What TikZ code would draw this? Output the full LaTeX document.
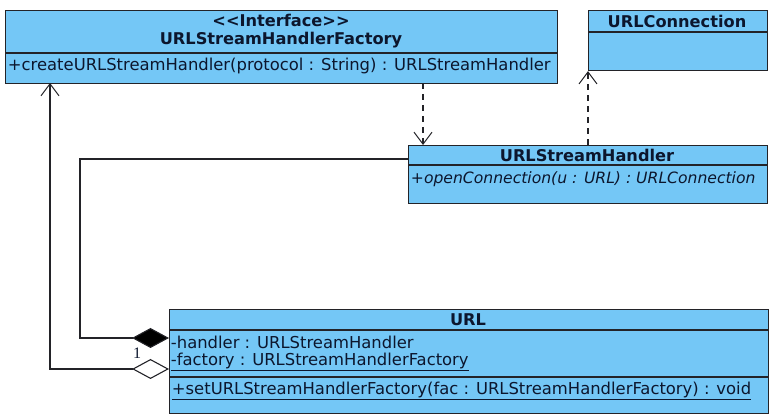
\documentclass[tikz,border=0pt]{standalone}
\usepackage{fontspec}
\setmainfont{DejaVu Sans}
\newfontfamily\multfont{Liberation Serif}
\usepackage{tikz}
\usetikzlibrary{arrows.meta}

\definecolor{umlfill}{RGB}{116,199,246}
\definecolor{umlline}{RGB}{35,35,40}
\definecolor{umltext}{RGB}{12,22,45}

\tikzset{
  umlbox/.style={draw=umlline, fill=umlfill, line width=1.1pt, inner sep=0pt, anchor=north west},
  boxtitle/.style={font=\bfseries\fontsize{16.2}{18}\selectfont, text=umltext, inner sep=0.75pt},
  member/.style={font=\fontsize{16.4}{18}\selectfont, text=umltext, inner sep=0.75pt, anchor=west},
  link/.style={draw=umlline, line width=1.1pt},
  dep/.style={link, dashed, dash pattern=on 6pt off 5pt, -{Straight Barb[length=12pt,width=18pt,line width=1pt]}},
}

\begin{document}
\begin{tikzpicture}[x=1pt,y=1pt,yscale=-1,xscale=1]
\useasboundingbox (0,0) rectangle (774,419);

% Boxes
\node [umlbox, minimum width=552pt, minimum height=73pt] (fac) at (5,10) {};
\node [umlbox, minimum width=179pt, minimum height=60pt] (conn) at (588,10) {};
\node [umlbox, minimum width=359pt, minimum height=58pt] (hnd) at (408,145) {};
\node [umlbox, minimum width=599pt, minimum height=104pt] (url) at (169,309) {};

% Compartment lines
\draw [umlline, line width=1.1pt] (5,53) -- (557,53) ;
\draw [umlline, line width=1.1pt] (588,32) -- (767,32) ;
\draw [umlline, line width=1.1pt] (408,165) -- (767,165) ;
\draw [umlline, line width=1.1pt] (169,330) -- (768,330) ;
\draw [umlline, line width=1.1pt] (169,377) -- (768,377) ;

% Text Node
\node [boxtitle] (facst) at (281,20) {{<}{<}Interface{>}{>}};
\node [boxtitle] (facname) at (281,40) {URLStreamHandlerFactory};
\node [member] (facop) at (7,66) {+createURLStreamHandler(protocol : String) : URLStreamHandler};
% Text Node
\node [boxtitle] (connname) at (677,21) {URLConnection};
% Text Node
\node [boxtitle] (hndname) at (587,155) {URLStreamHandler};
\node [member, font=\itshape\fontsize{15.6}{18}\selectfont] (hndop) at (410,179) {+openConnection(u : URL) : URLConnection};
% Text Node
\node [boxtitle] (urlname) at (468,320) {URL};
\node [member] (urlhandler) at (170,342) {-handler : URLStreamHandler};
\node [member] (urlfactory) at (170,362) {\underline{-factory : URLStreamHandlerFactory}};
\node [member] (urlop) at (171,391) {\underline{+setURLStreamHandlerFactory(fac : URLStreamHandlerFactory) : void}};
% Text Node
\node [font=\multfont\fontsize{16}{16}\selectfont, text=umltext, inner sep=0pt] (mult) at (137,353) {1};

% Connector ends
\coordinate (facdep) at (423,83);
\coordinate (facagg) at (50,83);
\coordinate (hndlink) at (408,159);
\coordinate (urlhand) at (169,338);
\coordinate (urlfac) at (169,369);

% Dependencies
\draw [dep] (facdep) -- (facdep |- hnd.north) ;
\draw [dep] (hnd.north -| conn.south west) -- (conn.south west) ;

% Composition
\draw [link, {Diamond[length=37pt,width=20pt,fill=black]}-] (urlhand) -- (80,338) |- (hndlink) ;
% Aggregation
\draw [link, {Diamond[open,length=37pt,width=20pt,fill=white]}-{Straight Barb[length=12pt,width=18pt,line width=1pt]}] (urlfac) -| (facagg) ;

\end{tikzpicture}
\end{document}
